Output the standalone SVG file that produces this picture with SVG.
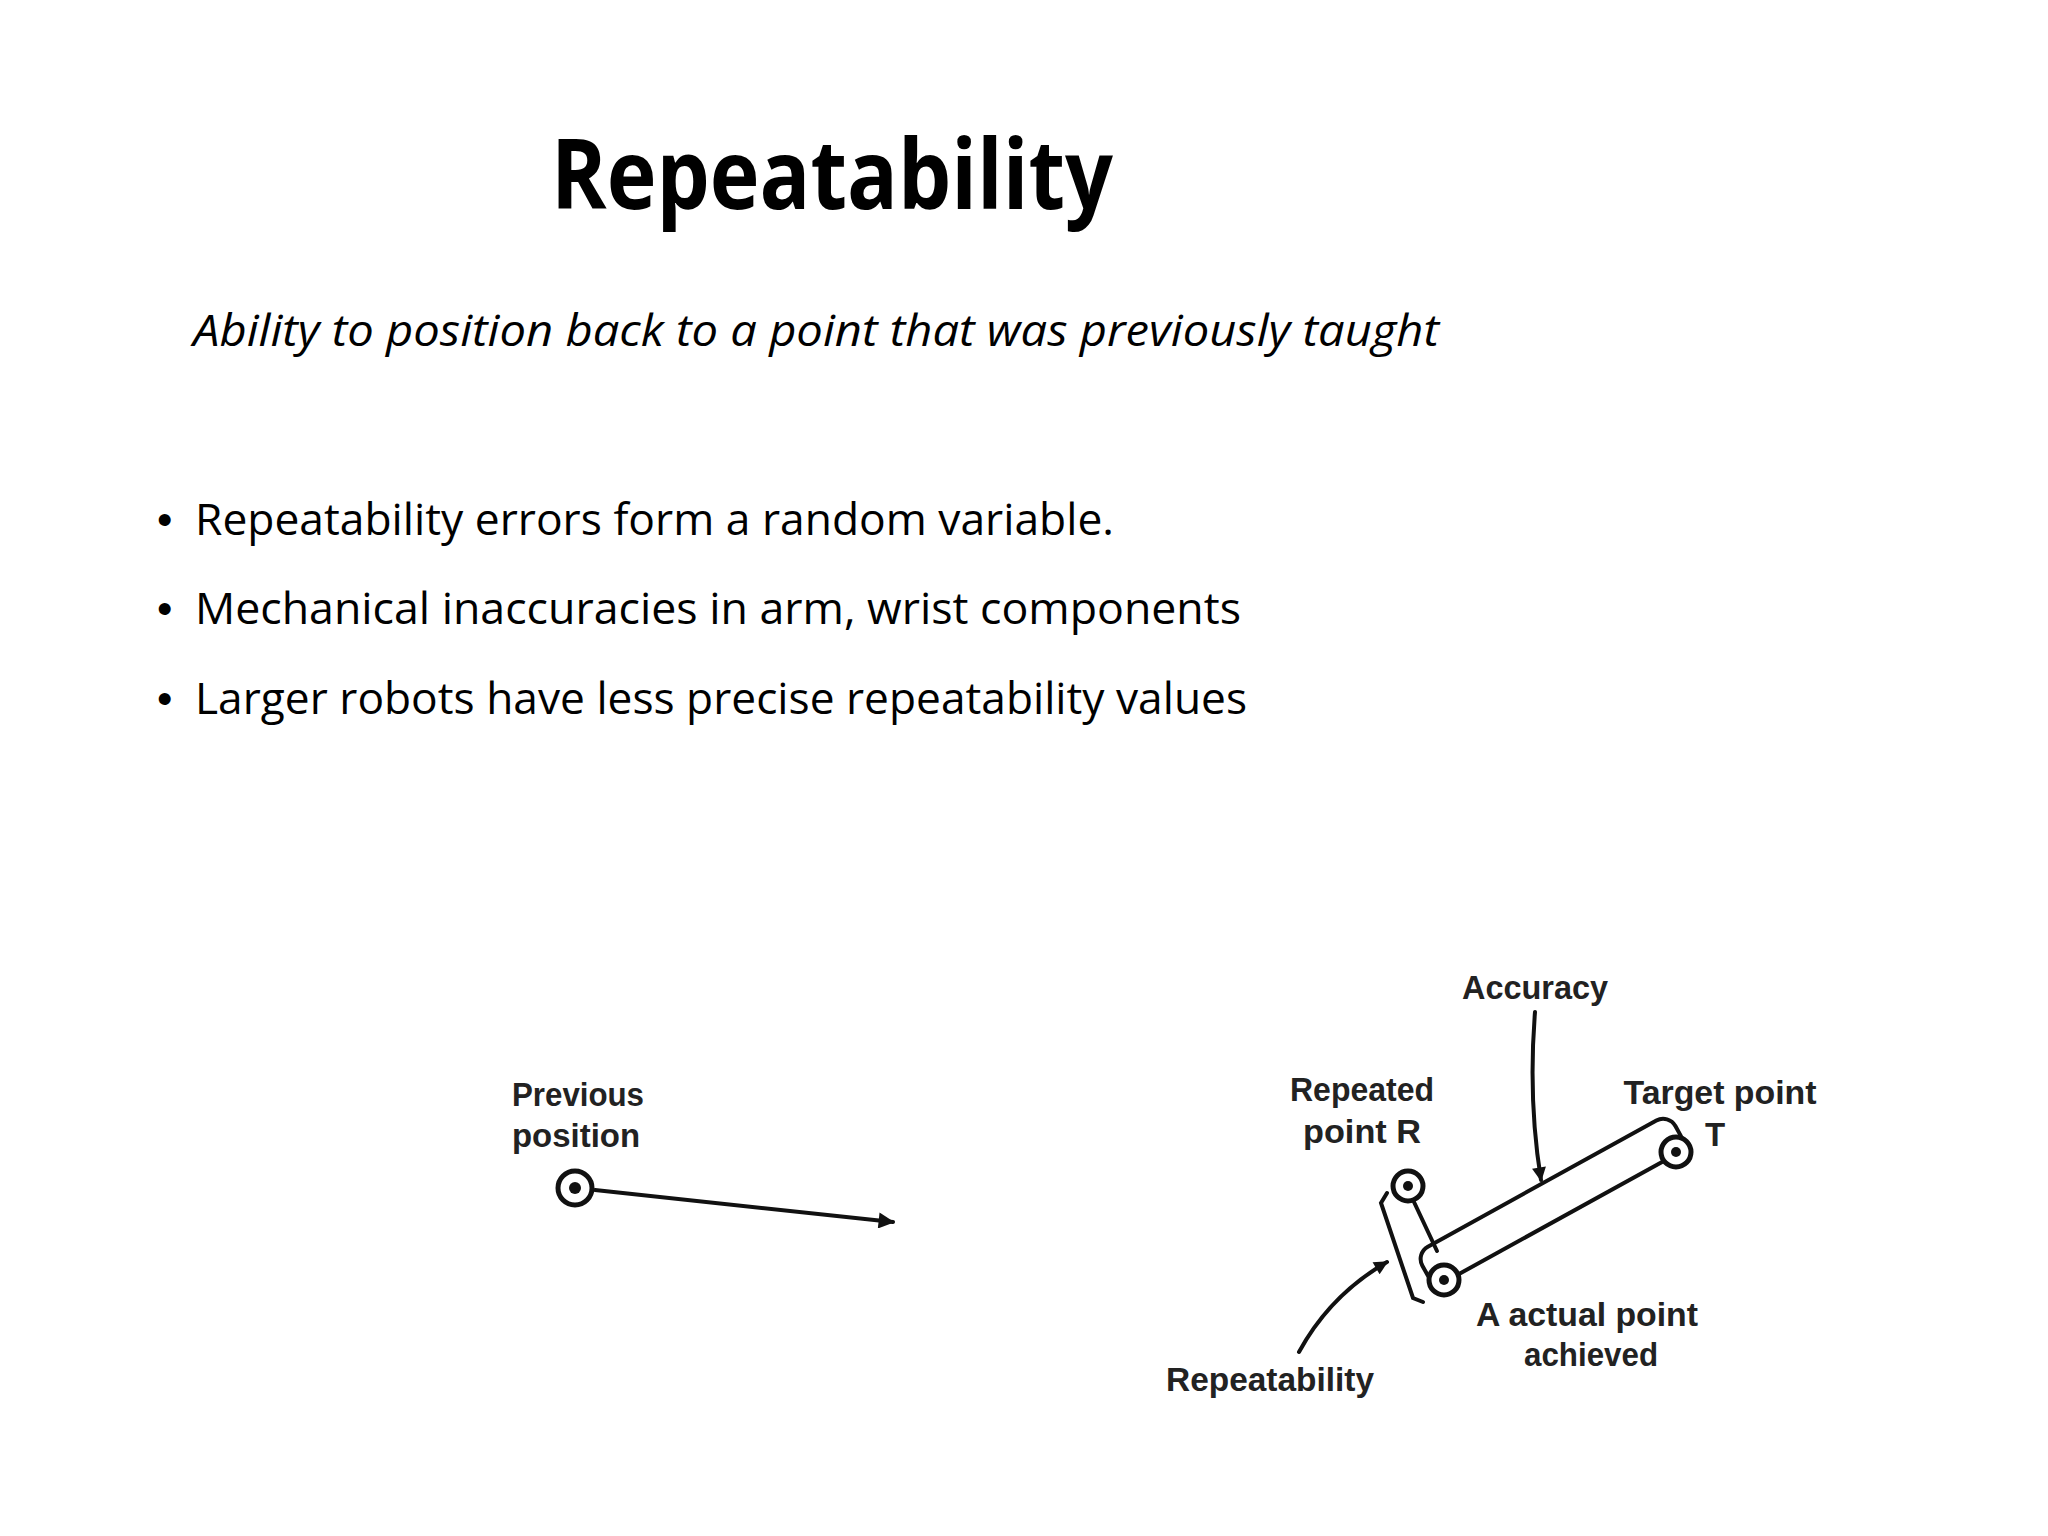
<svg xmlns="http://www.w3.org/2000/svg" width="2048" height="1536" viewBox="0 0 2048 1536">
<defs>
<style>
.t{font-family:"Open Sans","Liberation Sans",sans-serif;fill:#000}
.d{font-family:"Liberation Sans",Arial,sans-serif;font-weight:bold;fill:#222;font-size:33px}
.ln{fill:none;stroke:#111;stroke-width:4;stroke-linecap:round}
.ring{fill:#fff;stroke:#111;stroke-width:5}
</style>
<marker id="ah" viewBox="0 0 10 10" refX="9" refY="5" markerWidth="22" markerHeight="14" orient="auto" markerUnits="userSpaceOnUse"><path d="M0,0 L10,5 L0,10 z" fill="#111"/></marker>
<marker id="ah2" viewBox="0 0 10 10" refX="9" refY="5" markerWidth="30" markerHeight="16" orient="auto" markerUnits="userSpaceOnUse"><path d="M0,0 L10,5 L0,10 z" fill="#111"/></marker>
</defs>
<rect width="2048" height="1536" fill="#fff"/>
<text class="t" x="551" y="209" font-size="96" font-weight="bold" textLength="562" lengthAdjust="spacingAndGlyphs">Repeatability</text>
<text class="t" x="193" y="346" font-size="44" font-style="italic" textLength="1246" lengthAdjust="spacingAndGlyphs">Ability to position back to a point that was previously taught</text>
<g class="t" font-size="44">
<text x="157" y="535" font-family="Liberation Sans">•</text><text x="195" y="535" textLength="919" lengthAdjust="spacingAndGlyphs">Repeatability errors form a random variable.</text>
<text x="157" y="624" font-family="Liberation Sans">•</text><text x="195" y="624" textLength="1046" lengthAdjust="spacingAndGlyphs">Mechanical inaccuracies in arm, wrist components</text>
<text x="157" y="714" font-family="Liberation Sans">•</text><text x="195" y="714" textLength="1052" lengthAdjust="spacingAndGlyphs">Larger robots have less precise repeatability values</text>
</g>
<g id="previous">
<text class="d" x="512" y="1106" textLength="132" lengthAdjust="spacingAndGlyphs">Previous</text>
<text class="d" x="512" y="1147" textLength="128" lengthAdjust="spacingAndGlyphs">position</text>
<circle class="ring" cx="575" cy="1188" r="17"/><circle cx="575" cy="1188" r="6" fill="#111"/>
</g>
<g id="bar">
<rect class="ln" x="-12" y="-37" width="289" height="39" rx="14" transform="translate(1444,1280) rotate(-28.9)"/>
</g>
<g id="R">
<text class="d" x="1362" y="1101" text-anchor="middle" textLength="144" lengthAdjust="spacingAndGlyphs">Repeated</text>
<text class="d" x="1362" y="1143" text-anchor="middle" textLength="118" lengthAdjust="spacingAndGlyphs">point R</text>
<circle class="ring" cx="1408" cy="1186" r="15"/><circle cx="1408" cy="1186" r="5" fill="#111"/>
</g>
<g id="T">
<text class="d" x="1720" y="1104" text-anchor="middle" textLength="193" lengthAdjust="spacingAndGlyphs">Target point</text>
<text class="d" x="1715" y="1146" text-anchor="middle">T</text>
<circle class="ring" cx="1676" cy="1152" r="15"/><circle cx="1676" cy="1152" r="5" fill="#111"/>
</g>
<g id="A">
<circle class="ring" cx="1444" cy="1280" r="15"/><circle cx="1444" cy="1280" r="5" fill="#111"/>
<text class="d" x="1587" y="1326" text-anchor="middle" textLength="222" lengthAdjust="spacingAndGlyphs">A actual point</text>
<text class="d" x="1591" y="1366" text-anchor="middle" textLength="134" lengthAdjust="spacingAndGlyphs">achieved</text>
</g>
<g id="labels">
<text class="d" x="1535" y="999" text-anchor="middle" textLength="146" lengthAdjust="spacingAndGlyphs">Accuracy</text>
<text class="d" x="1166" y="1391" textLength="208" lengthAdjust="spacingAndGlyphs">Repeatability</text>
</g>
<g id="connectors">
<line class="ln" x1="595" y1="1190" x2="893" y2="1222" marker-end="url(#ah2)" stroke-width="3"/>
<path class="ln" d="M1414,1202 L1437,1251"/>
<path class="ln" d="M1387,1193 L1381,1203 L1413,1298 L1423,1302"/>
<path class="ln" d="M1535,1012 Q1528,1100 1541,1180" marker-end="url(#ah)" stroke-width="3"/>
<path class="ln" d="M1299,1352 Q1330,1295 1387,1262" marker-end="url(#ah)" stroke-width="3"/>
</g>
</svg>
